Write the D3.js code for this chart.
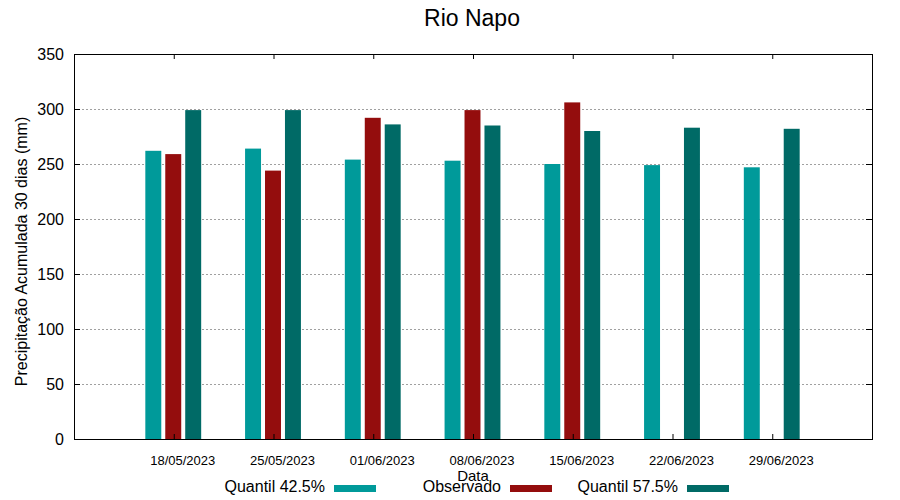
<!DOCTYPE html>
<html>
<head>
<meta charset="utf-8">
<script src="https://cdn.jsdelivr.net/npm/d3@7"></script>
<style>
  body { margin: 0; background: #fff; }
  text { font-family: "Liberation Sans", Arial, sans-serif; fill: #000; }
</style>
</head>
<body>
<div id="chart"></div>
<script>
// ----------------------------DATA-------------------------------//
const dates = ['18/05/2023', '25/05/2023', '01/06/2023', '08/06/2023', '15/06/2023', '22/06/2023', '29/06/2023'];
const quantil425 = [262, 264, 254, 253, 250, 249, 247];
const observado = [259, 244, 292, 299, 306, null, null];
const quantil575 = [299, 299, 286, 285, 280, 283, 282];
const yTicks = [0, 50, 100, 150, 200, 250, 300, 350];

const seriesNames = ['Quantil 42.5%', 'Observado', 'Quantil 57.5%'];
const seriesColors = ['#009a9a', '#940d0d', '#006a66'];

const width = 900;
const height = 500;
const plotLeft = 74;
const plotRight = 872;
const plotTop = 54;
const plotBottom = 439;

const svg = d3.select('#chart').append('svg')
  .attr('width', width)
  .attr('height', height);

// ----------------------------SCALES-----------------------------//
const xScale = d3.scaleLinear().domain([0, dates.length + 1]).range([plotLeft, plotRight]);
const yScale = d3.scaleLinear().domain([0, 350]).range([plotBottom, plotTop]);
const unit = xScale(1) - xScale(0);
const barW = unit * 0.16;
const step = unit * 0.2;

// ----------------------------GRID-------------------------------//
svg.append('g')
  .selectAll('line')
  .data(yTicks.filter(d => d > 0 && d < 350))
  .enter()
  .append('line')
  .attr('x1', plotLeft)
  .attr('x2', plotRight)
  .attr('y1', d => Math.round(yScale(d)) + 0.5)
  .attr('y2', d => Math.round(yScale(d)) + 0.5)
  .attr('stroke', '#a0a0a0')
  .attr('stroke-width', 1)
  .attr('stroke-dasharray', '2,2');

// ----------------------------BARS-------------------------------//
const series = [quantil425, observado, quantil575];
series.forEach((vals, s) => {
  svg.append('g')
    .selectAll('rect')
    .data(vals.map((v, i) => ({ v, i })).filter(d => d.v !== null))
    .enter()
    .append('rect')
    .attr('x', d => xScale(d.i + 1) + (s - 1) * step - barW / 2 - 0.5)
    .attr('y', d => yScale(d.v))
    .attr('width', barW)
    .attr('height', d => yScale(0) - yScale(d.v))
    .attr('fill', seriesColors[s]);
});

// -----------------------------AXES------------------------------//
const yLeft = d3.axisLeft(yScale).tickValues(yTicks).tickSize(-6).tickPadding(10);
const yRight = d3.axisRight(yScale).tickValues(yTicks).tickSize(-6).tickFormat('');
const xBottom = d3.axisBottom(xScale).tickValues(dates.map((d, i) => i + 1)).tickSize(-5).tickFormat('');
const xTop = d3.axisTop(xScale).tickValues(dates.map((d, i) => i + 1)).tickSize(-5).tickFormat('');

const gy = svg.append('g').attr('transform', `translate(${plotLeft},0)`).call(yLeft);
gy.selectAll('text').style('font-size', '16px');
svg.append('g').attr('transform', `translate(${plotRight},0)`).call(yRight);
svg.append('g').attr('transform', `translate(0,${plotBottom})`).call(xBottom);
svg.append('g').attr('transform', `translate(0,${plotTop})`).call(xTop);
svg.selectAll('.domain').remove();
svg.selectAll('.tick line').attr('stroke', '#000');

// frame
svg.append('rect')
  .attr('x', plotLeft + 0.5)
  .attr('y', plotTop + 0.5)
  .attr('width', plotRight - plotLeft)
  .attr('height', plotBottom - plotTop)
  .attr('fill', 'none')
  .attr('stroke', '#000')
  .attr('stroke-width', 1);

// date labels (gnuplot puts them slightly right of the group)
svg.append('g')
  .selectAll('text')
  .data(dates)
  .enter()
  .append('text')
  .attr('x', (d, i) => xScale(i + 1) + 9)
  .attr('y', 465)
  .attr('text-anchor', 'middle')
  .style('font-size', '13px')
  .text(d => d);

// ----------------------------TITLES-----------------------------//
svg.append('text')
  .attr('x', (plotLeft + plotRight) / 2 - 1)
  .attr('y', 26)
  .attr('text-anchor', 'middle')
  .style('font-size', '23px')
  .text('Rio Napo');

svg.append('text')
  .attr('x', (plotLeft + plotRight) / 2)
  .attr('y', 481)
  .attr('text-anchor', 'middle')
  .style('font-size', '15px')
  .text('Data');

svg.append('text')
  .attr('transform', `translate(27,${(plotTop + plotBottom) / 2 + 5}) rotate(-90)`)
  .attr('text-anchor', 'middle')
  .style('font-size', '16px')
  .text('Precipitação Acumulada 30 dias (mm)');

// ----------------------------LEGEND-----------------------------//
const legendX = [334, 510, 687];
const legend = svg.append('g')
  .selectAll('g')
  .data(seriesNames)
  .enter()
  .append('g')
  .attr('transform', (d, i) => `translate(${legendX[i]},485)`);

legend.append('rect')
  .attr('width', 42)
  .attr('height', 7)
  .attr('fill', (d, i) => seriesColors[i]);

legend.append('text')
  .attr('x', -9)
  .attr('y', 7)
  .attr('text-anchor', 'end')
  .style('font-size', '16px')
  .text(d => d);
</script>
</body>
</html>
